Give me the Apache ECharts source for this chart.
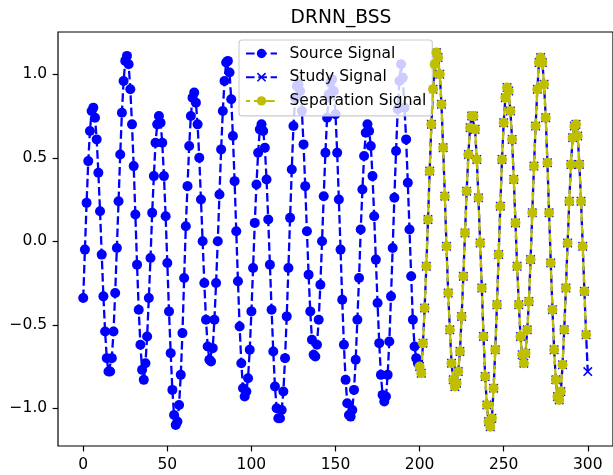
<!DOCTYPE html>
<html>
<head>
<meta charset="utf-8">
<title>DRNN_BSS</title>
<script src="https://cdn.jsdelivr.net/npm/echarts@6/dist/echarts.min.js"></script>
<style>
  html, body { margin: 0; padding: 0; background: #fff; }
  #main { width: 613px; height: 475px; }
</style>
</head>
<body>
<div id="main"></div>
<script>
// source signal, x = 0 .. 199
const sourceSignal = [
  -0.34, -0.05, 0.23, 0.48, 0.66, 0.78, 0.80, 0.74, 0.61, 0.41,
  0.18, -0.08, -0.33, -0.54, -0.70, -0.78, -0.78, -0.70, -0.54, -0.31,
  -0.04, 0.24, 0.52, 0.77, 0.96, 1.08, 1.11, 1.06, 0.91, 0.70,
  0.45, 0.16, -0.14, -0.41, -0.62, -0.77, -0.83, -0.73, -0.57, -0.34,
  -0.10, 0.17, 0.39, 0.59, 0.70, 0.75, 0.71, 0.59, 0.39, 0.15,
  -0.13, -0.42, -0.67, -0.89, -1.04, -1.10, -1.08, -0.98, -0.80, -0.55,
  -0.22, 0.09, 0.33, 0.57, 0.75, 0.86, 0.89, 0.83, 0.70, 0.50,
  0.25, 0.00, -0.25, -0.47, -0.63, -0.71, -0.72, -0.64, -0.47, -0.25,
  0.00, 0.28, 0.55, 0.78, 0.96, 1.07, 1.08, 1.01, 0.85, 0.63,
  0.36, 0.06, -0.24, -0.51, -0.73, -0.88, -0.93, -0.90, -0.82, -0.65,
  -0.42, -0.16, 0.11, 0.34, 0.53, 0.67, 0.70, 0.66, 0.56, 0.37,
  0.13, -0.14, -0.41, -0.66, -0.87, -1.00, -1.06, -1.06, -1.01, -0.90,
  -0.70, -0.45, -0.16, 0.14, 0.43, 0.69, 0.86, 0.93, 0.94, 0.90,
  0.78, 0.58, 0.33, 0.06, -0.20, -0.42, -0.59, -0.68, -0.69, -0.62,
  -0.47, -0.26, 0.00, 0.27, 0.53, 0.74, 0.88, 0.95, 0.97, 0.90,
  0.76, 0.53, 0.25, -0.05, -0.35, -0.62, -0.83, -0.97, -1.04, -1.05,
  -1.01, -0.89, -0.71, -0.47, -0.22, 0.07, 0.31, 0.51, 0.65, 0.70,
  0.66, 0.57, 0.39, 0.15, -0.11, -0.37, -0.61, -0.80, -0.92, -0.96,
  -0.93, -0.80, -0.60, -0.33, -0.04, 0.26, 0.54, 0.79, 0.96, 1.06,
  0.98, 0.80, 0.61, 0.35, 0.07, -0.21, -0.47, -0.63, -0.70, -0.73
]

// study signal, x = 200 .. 300
const studySignal = [
  -0.75, -0.79, -0.61, -0.40, -0.15, 0.13, 0.42, 0.70, 0.91, 1.06,
  1.13, 1.10, 1.00, 0.82, 0.56, 0.27, -0.03, -0.31, -0.53, -0.73,
  -0.83, -0.87, -0.85, -0.78, -0.66, -0.45, -0.21, 0.05, 0.30, 0.52,
  0.68, 0.75, 0.75, 0.67, 0.49, 0.26, -0.01, -0.28, -0.57, -0.81,
  -0.98, -1.08, -1.11, -1.06, -0.88, -0.65, -0.38, -0.08, 0.21, 0.49,
  0.71, 0.86, 0.92, 0.90, 0.78, 0.61, 0.37, 0.11, -0.15, -0.38,
  -0.57, -0.68, -0.73, -0.67, -0.53, -0.36, -0.11, 0.17, 0.45, 0.69,
  0.91, 1.07, 1.10, 1.07, 0.94, 0.74, 0.47, 0.17, -0.13, -0.41,
  -0.65, -0.83, -0.93, -0.95, -0.90, -0.74, -0.53, -0.28, -0.01, 0.24,
  0.46, 0.62, 0.69, 0.70, 0.63, 0.46, 0.24, -0.03, -0.30, -0.56,
  -0.78
]

// separation signal, x = 200 .. 299
const separationSignal = [
  -0.75, -0.79, -0.61, -0.40, -0.15, 0.13, 0.42, 0.70, 0.91, 1.06,
  1.13, 1.10, 1.00, 0.82, 0.56, 0.27, -0.03, -0.31, -0.53, -0.73,
  -0.83, -0.87, -0.85, -0.78, -0.66, -0.45, -0.21, 0.05, 0.30, 0.52,
  0.68, 0.75, 0.75, 0.67, 0.49, 0.26, -0.01, -0.28, -0.57, -0.81,
  -0.98, -1.08, -1.11, -1.06, -0.88, -0.65, -0.38, -0.08, 0.21, 0.49,
  0.71, 0.86, 0.92, 0.90, 0.78, 0.61, 0.37, 0.11, -0.15, -0.38,
  -0.57, -0.68, -0.73, -0.67, -0.53, -0.36, -0.11, 0.17, 0.45, 0.69,
  0.91, 1.07, 1.10, 1.07, 0.94, 0.74, 0.47, 0.17, -0.13, -0.41,
  -0.65, -0.83, -0.93, -0.95, -0.90, -0.74, -0.53, -0.28, -0.01, 0.24,
  0.46, 0.62, 0.69, 0.70, 0.63, 0.46, 0.24, -0.03, -0.30, -0.56
]

const sourceStart = 0
const studyStart = 200
const separationStart = 200

const xTicks = [0, 50, 100, 150, 200, 250, 300]
const yTicks = [-1.0, -0.5, 0.0, 0.5, 1.0]

const BLUE = '#0000ff'
const OLIVE = '#bfbf00'
const FONT = 'DejaVu Sans'
const DASH = [8.6, 3.7]
// matplotlib style 'x' marker as a filled polygon
const X_MARK = 'path://M0,1.17L1.17,0L5,3.83L8.83,0L10,1.17L6.17,5L10,8.83L8.83,10L5,6.17L1.17,10L0,8.83L3.83,5Z'

const toPairs = (arr, start) => arr.map((v, i) => [start + i, v])

const chart = echarts.init(document.getElementById('main'), null, { renderer: 'canvas' })

const axisText = { fontFamily: FONT, fontSize: 15.5, color: '#000' }

chart.setOption({
  animation: false,
  title: {
    text: 'DRNN_BSS',
    left: 336,
    top: 4,
    textAlign: 'center',
    textStyle: { fontFamily: FONT, fontSize: 18.7, fontWeight: 'normal', color: '#000' }
  },
  legend: {
    data: ['Source Signal', 'Study Signal', 'Separation Signal'],
    orient: 'vertical',
    left: 239,
    top: 40,
    padding: [5.5, 6, 7, 6],
    itemGap: 7.7,
    itemWidth: 31,
    itemHeight: 11.6,
    backgroundColor: 'rgba(255,255,255,0.8)',
    borderColor: '#cccccc',
    borderWidth: 1.1,
    borderRadius: 3,
    textStyle: { fontFamily: FONT, fontSize: 15.5, color: '#000', padding: [0, 0, 0, 7.5] }
  },
  grid: {
    left: 58,
    top: 32,
    width: 556,
    height: 414,
    show: true,
    borderColor: '#000',
    borderWidth: 1.2,
    backgroundColor: 'transparent'
  },
  xAxis: {
    type: 'value',
    min: -15,
    max: 315,
    axisLine: { show: false, onZero: false },
    splitLine: { show: false },
    axisTick: { show: true, length: 5.4, lineStyle: { color: '#000', width: 1.2 }, customValues: xTicks },
    axisLabel: Object.assign({ customValues: xTicks, margin: 10.5 }, axisText)
  },
  yAxis: {
    type: 'value',
    min: -1.226,
    max: 1.253,
    axisLine: { show: false, onZero: false },
    splitLine: { show: false },
    axisTick: { show: true, length: 5.4, lineStyle: { color: '#000', width: 1.2 }, customValues: yTicks },
    axisLabel: Object.assign({
      customValues: yTicks,
      margin: 10.8,
      formatter: v => (v < 0 ? '\u2212' : '') + Math.abs(v).toFixed(1)
    }, axisText)
  },
  series: [
    {
      name: 'Source Signal',
      type: 'line',
      data: toPairs(sourceSignal, sourceStart),
      symbol: 'circle',
      symbolSize: 10,
      showAllSymbol: true,
      itemStyle: { color: BLUE },
      lineStyle: { color: BLUE, width: 2.3, type: DASH },
      emphasis: { disabled: true },
      z: 2
    },
    {
      name: 'Study Signal',
      type: 'line',
      data: toPairs(studySignal, studyStart),
      symbol: X_MARK,
      symbolSize: 9.5,
      showAllSymbol: true,
      itemStyle: { color: BLUE },
      lineStyle: { color: BLUE, width: 2.3, type: DASH },
      emphasis: { disabled: true },
      z: 3
    },
    {
      name: 'Separation Signal',
      type: 'line',
      data: toPairs(separationSignal, separationStart),
      symbol: 'circle',
      symbolSize: 10,
      showAllSymbol: true,
      itemStyle: { color: OLIVE },
      lineStyle: { color: OLIVE, width: 2.3, type: DASH, dashOffset: 4.5 },
      emphasis: { disabled: true },
      z: 4
    }
  ]
})
</script>
</body>
</html>
